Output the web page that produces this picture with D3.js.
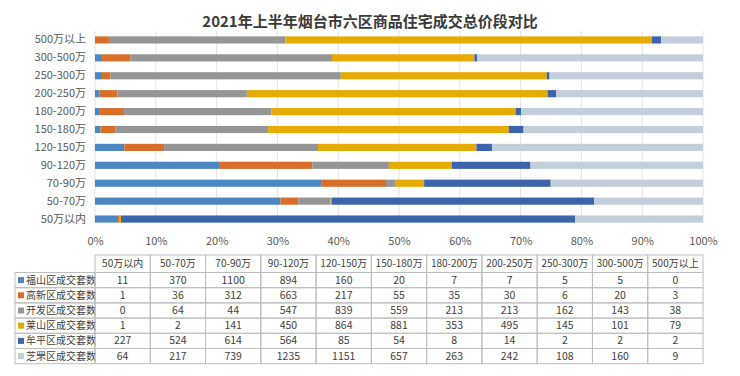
<!DOCTYPE html>
<html>
<head>
<meta charset="utf-8">
<script src="https://cdn.jsdelivr.net/npm/d3@7"></script>
<style>
  body { margin: 0; background: #fff; }
  svg text { font-family: "Microsoft YaHei", "Noto Sans CJK SC", sans-serif; }
</style>
</head>
<body>
<div id="chart-area"></div>
<script>
var categories = ["50万以内", "50-70万", "70-90万", "90-120万", "120-150万", "150-180万",
                  "180-200万", "200-250万", "250-300万", "300-500万", "500万以上"];
var seriesNames = ["福山区成交套数", "高新区成交套数", "开发区成交套数", "莱山区成交套数", "牟平区成交套数", "芝罘区成交套数"];
var fushan  = [11, 370, 1100, 894, 160, 20, 7, 7, 5, 5, 0];
var gaoxin  = [1, 36, 312, 663, 217, 55, 35, 30, 6, 20, 3];
var kaifa   = [0, 64, 44, 547, 839, 559, 213, 213, 162, 143, 38];
var laishan = [1, 2, 141, 450, 864, 881, 353, 495, 145, 101, 79];
var muping  = [227, 524, 614, 564, 85, 54, 8, 14, 2, 2, 2];
var zhifu   = [64, 217, 739, 1235, 1151, 657, 263, 242, 108, 160, 9];
var xTicks = [0, 0.1, 0.2, 0.3, 0.4, 0.5, 0.6, 0.7, 0.8, 0.9, 1];

var colors = ["#4d87c1", "#d76f2b", "#959595", "#e6ab02", "#3c64ad", "#c3cedb"];
var seriesValues = [fushan, gaoxin, kaifa, laishan, muping, zhifu];

var width = 740, height = 376;
var plotLeft = 95, plotRight = 703, plotTop = 31, plotBottom = 228;

var svg = d3.select("#chart-area").append("svg")
    .attr("width", width)
    .attr("height", height);

// title
svg.append("text")
    .attr("x", 370).attr("y", 27)
    .attr("text-anchor", "middle")
    .attr("font-size", "15px")
    .attr("font-weight", "bold")
    .attr("fill", "#3a3a3a")
    .text("2021年上半年烟台市六区商品住宅成交总价段对比");

// rows of normalised data
var rows = categories.map(function(c, i) {
    var row = {cat: c};
    var total = 0;
    seriesNames.forEach(function(s, j) { row[s] = seriesValues[j][i]; total += seriesValues[j][i]; });
    seriesNames.forEach(function(s) { row[s] = row[s] / total; });
    return row;
});

var stacked = d3.stack().keys(seriesNames)(rows);

var x = d3.scaleLinear().domain([0, 1]).range([plotLeft, plotRight]);
var y = d3.scaleBand()
    .domain(categories.slice().reverse())
    .range([plotTop, plotBottom])
    .paddingInner(0.6)
    .paddingOuter(0.3);

// grid lines
svg.append("g")
    .selectAll("line")
    .data(xTicks)
    .enter().append("line")
        .attr("x1", function(d) { return x(d); })
        .attr("x2", function(d) { return x(d); })
        .attr("y1", plotTop)
        .attr("y2", plotBottom - 5)
        .attr("stroke", "#e3e3e3")
        .attr("stroke-width", 1);

// bars
svg.append("g")
    .selectAll("g")
    .data(stacked)
    .enter().append("g")
        .attr("fill", function(d, i) { return colors[i]; })
    .selectAll("rect")
    .data(function(d) { return d; })
    .enter().append("rect")
        .attr("x", function(d) { return x(d[0]); })
        .attr("y", function(d) { return y(d.data.cat); })
        .attr("width", function(d) { return Math.max(0, x(d[1]) - x(d[0])); })
        .attr("height", y.bandwidth());

// y axis labels
var leftAxis = d3.axisLeft(y).tickSize(0).tickPadding(9);
var ga = svg.append("g")
    .attr("transform", "translate(" + plotLeft + ",0)")
    .call(leftAxis);
ga.select(".domain").remove();
ga.selectAll("text").attr("font-size", "11px").attr("fill", "#595959");

// x axis labels
var bottomAxis = d3.axisBottom(x).tickValues(xTicks).tickSize(0).tickFormat(d3.format(".0%"));
var gb = svg.append("g")
    .attr("transform", "translate(0," + 234 + ")")
    .call(bottomAxis);
gb.select(".domain").remove();
gb.selectAll("text").attr("font-size", "11px").attr("fill", "#595959");

// data table
var colW = (plotRight - plotLeft) / categories.length;
var headTop = 255, headH = 17.5, rowH = 15.2;
var tableLeft = 15;
var grid = "#bdbdbd";
var t = svg.append("g");

// header cells
categories.forEach(function(c, i) {
    t.append("rect")
        .attr("x", plotLeft + i * colW).attr("y", headTop)
        .attr("width", colW).attr("height", headH)
        .attr("fill", "none").attr("stroke", grid);
    t.append("text")
        .attr("x", plotLeft + i * colW + colW / 2)
        .attr("y", headTop + headH / 2 + 3.5)
        .attr("text-anchor", "middle")
        .attr("font-size", "10px")
        .attr("fill", "#404040")
        .text(c);
});

seriesNames.forEach(function(s, j) {
    var yy = headTop + headH + j * rowH;
    t.append("rect")
        .attr("x", tableLeft).attr("y", yy)
        .attr("width", plotLeft - tableLeft).attr("height", rowH)
        .attr("fill", "none").attr("stroke", grid);
    t.append("rect")
        .attr("x", tableLeft + 3).attr("y", yy + rowH / 2 - 3)
        .attr("width", 6).attr("height", 6)
        .attr("fill", colors[j]);
    t.append("text")
        .attr("x", tableLeft + 11).attr("y", yy + rowH / 2 + 3.5)
        .attr("font-size", "10px")
        .attr("fill", "#404040")
        .text(s);
    seriesValues[j].forEach(function(v, i) {
        t.append("rect")
            .attr("x", plotLeft + i * colW).attr("y", yy)
            .attr("width", colW).attr("height", rowH)
            .attr("fill", "none").attr("stroke", grid);
        t.append("text")
            .attr("x", plotLeft + i * colW + colW / 2)
            .attr("y", yy + rowH / 2 + 3.5)
            .attr("text-anchor", "middle")
            .attr("font-size", "10.5px")
            .attr("fill", "#404040")
            .text(v);
    });
});
</script>
</body>
</html>
